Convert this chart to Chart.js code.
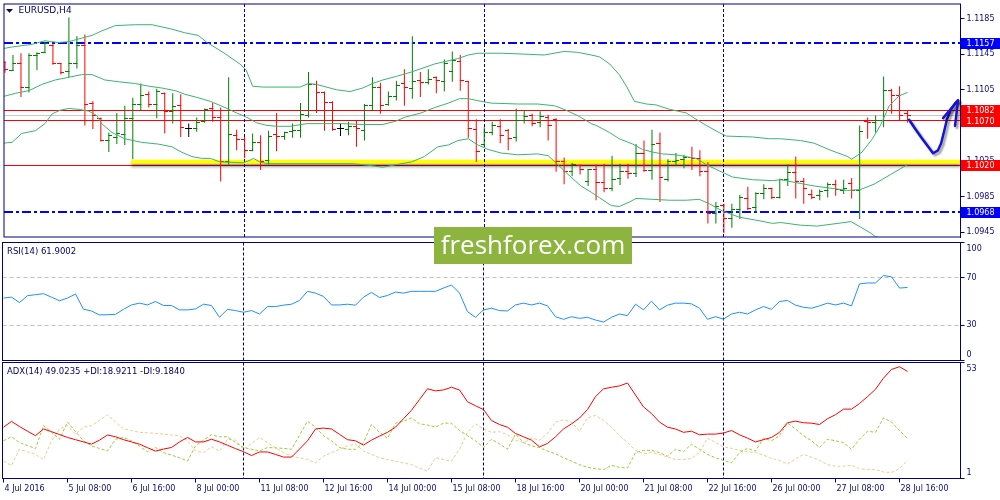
<!DOCTYPE html>
<html>
<head>
<meta charset="utf-8">
<title>EURUSD H4</title>
<script src="https://cdn.jsdelivr.net/npm/chart.js@4.4.1/dist/chart.umd.min.js"></script>
<style>
  html, body { margin: 0; padding: 0; background: #fff; }
  #wrap { position: relative; width: 1000px; height: 500px; overflow: hidden; background: #fff; }
  #wrap canvas { position: absolute; left: 0; }
  #logo { position: absolute; left: 434px; top: 227px; width: 198px; height: 37px; background: #8cb43f;
          color: #fff; font: 26px 'Open Sans', sans-serif; line-height: 35px; text-align: center; z-index: 5; }
</style>
</head>
<body>
<div id="wrap">
  <canvas id="mainChart" width="1000" height="241" style="top:0px"></canvas>
  <canvas id="rsiChart" width="1000" height="120" style="top:241px"></canvas>
  <canvas id="adxChart" width="1000" height="139" style="top:361px"></canvas>
  <div id="logo">freshforex.com</div>
</div>
<script>
// ---- data (EURUSD H4, 4 Jul 2016 00:00 .. 28 Jul 2016 20:00, bar index 0..113) ----
const opens = [1.1136,1.1127,1.1134,1.1107,1.1144,1.1147,1.1155,1.1134,1.1125,1.1135,
  1.1155,1.1090,1.1073,1.1048,1.1051,1.1055,1.1073,1.1088,1.1100,1.1089,
  1.1101,1.1081,1.1087,1.1062,1.1061,1.1069,1.1084,1.1074,1.1024,1.1054,
  1.1049,1.1037,1.1046,1.1026,1.1055,1.1053,1.1058,1.1059,1.1076,1.1111,
  1.1102,1.1091,1.1061,1.1060,1.1064,1.1059,1.1087,1.1107,1.1089,1.1097,
  1.1112,1.1106,1.1115,1.1113,1.1119,1.1114,1.1125,1.1137,1.1114,1.1060,
  1.1043,1.1057,1.1064,1.1059,1.1051,1.1070,1.1076,1.1068,1.1074,1.1072,
  1.1024,1.1013,1.1020,1.1002,1.1015,1.1001,1.0994,1.1005,1.1013,1.1011,
  1.1034,1.1014,1.1045,1.1004,1.1024,1.1027,1.1029,1.1028,1.1013,1.0966,
  1.0975,1.0960,1.0971,1.0983,1.0973,1.0988,1.0994,1.0984,1.1004,1.1012,
  1.1002,1.0987,1.0986,1.0992,1.0999,1.0992,1.1000,1.0992,1.1069,1.1068,
  1.1070,1.1104,1.1098,1.1078];
const highs = [1.1137,1.1144,1.1146,1.1146,1.1147,1.1159,1.1156,1.1135,1.1186,1.1165,
  1.1167,1.1092,1.1074,1.1057,1.1079,1.1087,1.1096,1.1112,1.1103,1.1106,
  1.1102,1.1101,1.1100,1.1067,1.1074,1.1084,1.1090,1.1085,1.1119,1.1060,
  1.1052,1.1056,1.1054,1.1059,1.1079,1.1058,1.1067,1.1090,1.1125,1.1115,
  1.1103,1.1092,1.1067,1.1069,1.1070,1.1089,1.1119,1.1113,1.1103,1.1115,
  1.1128,1.1165,1.1125,1.1128,1.1120,1.1139,1.1148,1.1144,1.1115,1.1072,
  1.1063,1.1069,1.1072,1.1061,1.1084,1.1082,1.1078,1.1081,1.1077,1.1073,
  1.1029,1.1023,1.1021,1.1016,1.1021,1.1022,1.1031,1.1022,1.1022,1.1044,
  1.1048,1.1060,1.1057,1.1027,1.1034,1.1032,1.1041,1.1037,1.1024,1.0979,
  1.0977,1.0977,1.0987,1.0996,1.0990,1.0999,1.0995,1.1005,1.1021,1.1030,
  1.1006,1.0993,1.0993,1.1001,1.1004,1.1004,1.1006,1.1065,1.1074,1.1076,
  1.1120,1.1106,1.1109,1.1082];
const lows = [1.1124,1.1126,1.1097,1.1102,1.1127,1.1146,1.1133,1.1122,1.1119,1.1129,
  1.1065,1.1061,1.1047,1.1035,1.1044,1.1043,1.1027,1.1082,1.1085,1.1073,
  1.1056,1.1067,1.1052,1.1052,1.1058,1.1068,1.1069,1.1002,1.1021,1.1037,
  1.1028,1.1036,1.1015,1.1021,1.1036,1.1049,1.1051,1.1051,1.1074,1.1079,
  1.1059,1.1059,1.1053,1.1054,1.1041,1.1048,1.1081,1.1078,1.1087,1.1093,
  1.1087,1.1095,1.1097,1.1111,1.1101,1.1103,1.1114,1.1104,1.1051,1.1024,
  1.1041,1.1054,1.1045,1.1037,1.1047,1.1067,1.1064,1.1063,1.1048,1.1013,
  1.0999,1.1008,1.1010,1.0997,1.0981,1.0990,1.0991,1.0998,1.1005,1.1007,
  1.1013,1.1004,1.0979,1.1002,1.1020,1.1017,1.1015,1.1008,1.0955,1.0955,
  1.0944,1.0950,1.0960,1.0970,1.0967,1.0982,1.0982,1.0983,1.0997,1.0983,
  1.0977,1.0982,1.0981,1.0984,1.0986,1.0988,1.0983,1.0960,1.1050,1.1057,
  1.1063,1.1078,1.1071,1.1068];
const closes = [1.1128,1.1134,1.1108,1.1144,1.1146,1.1157,1.1134,1.1124,1.1135,1.1155,
  1.1089,1.1076,1.1048,1.1054,1.1056,1.1073,1.1088,1.1098,1.1089,1.1103,
  1.1081,1.1086,1.1063,1.1062,1.1068,1.1083,1.1074,1.1024,1.1055,1.1049,
  1.1037,1.1046,1.1025,1.1053,1.1052,1.1057,1.1059,1.1077,1.1111,1.1102,
  1.1091,1.1060,1.1061,1.1064,1.1061,1.1087,1.1107,1.1087,1.1097,1.1110,
  1.1107,1.1114,1.1113,1.1117,1.1115,1.1135,1.1138,1.1115,1.1061,1.1036,
  1.1057,1.1065,1.1054,1.1050,1.1070,1.1075,1.1067,1.1075,1.1065,1.1024,
  1.1013,1.1021,1.1015,1.1015,1.1001,1.0994,1.1004,1.1013,1.1011,1.1034,
  1.1014,1.1044,1.1007,1.1024,1.1026,1.1029,1.1028,1.1013,1.0966,1.0974,
  1.0960,1.0971,1.0984,1.0972,1.0988,1.0994,1.0984,1.1004,1.1012,1.1002,
  1.0994,1.0984,1.0991,1.0999,1.0993,1.0994,1.0992,1.1058,1.1068,1.1070,
  1.1104,1.1098,1.1076,1.1076];

// Bollinger bands: [bar, price]
const bbUpper = [[-0.4,1.1151],[0.9,1.1153],[3.4,1.1156],[5,1.1160],[6.7,1.1158],[8,1.1159],[9.2,1.1162],[10.9,1.1166],
  [12.1,1.1171],[13.8,1.1177],[16.3,1.1178],[18.4,1.1178],[20.9,1.1173],[22.5,1.1169],[24.2,1.1166],[25.3,1.1158],
  [27.3,1.1147],[29.4,1.1134],[30.2,1.1127],[31,1.1109],[32.3,1.1108],[36.9,1.1108],[38,1.1112],[39,1.1111],
  [41.5,1.1105],[43.2,1.1103],[44.8,1.1107],[46,1.1112],[47.3,1.1116],[49,1.1120],[50.9,1.1125],[53.8,1.1134],
  [56.7,1.1140],[58,1.1144],[59.2,1.1146],[62.1,1.1146],[65,1.1145],[67.5,1.1144],[70,1.1148],[71.7,1.1147],
  [73.4,1.1144],[74.4,1.1142],[75.7,1.1134],[76.9,1.1122],[77.8,1.1109],[78.8,1.1092],[80.3,1.1089],[81.5,1.1088],
  [83.2,1.1083],[85.3,1.1079],[86.5,1.1072],[87.8,1.1065],[89.4,1.1057],[90.3,1.1053],[93.6,1.1052],[95.7,1.1050],
  [97.1,1.1050],[99.6,1.1048],[101.3,1.1045],[103.4,1.1037],[105.5,1.1030],[106,1.1027],[107.3,1.1035],[108.6,1.1050],
  [109.6,1.1065],[110.7,1.1087],[111.9,1.1098],[113,1.1102]];
const bbMiddle = [[-0.4,1.1097],[1.3,1.1101],[3,1.1104],[4.6,1.1111],[6.3,1.1116],[8,1.1119],[9.6,1.1122],[10.9,1.1122],
  [12.5,1.1116],[14.2,1.1114],[16.3,1.1112],[18,1.1109],[19.6,1.1107],[21.3,1.1104],[22.5,1.1100],[24.2,1.1096],
  [25.7,1.1092],[27.3,1.1086],[29,1.1079],[30.3,1.1074],[31.5,1.1068],[32.8,1.1065],[34,1.1064],[35.7,1.1064],
  [37.8,1.1067],[42.3,1.1067],[44.8,1.1066],[47.3,1.1066],[49,1.1070],[50,1.1074],[52.1,1.1079],[53.8,1.1085],
  [55.5,1.1090],[56.9,1.1095],[58,1.1095],[59.6,1.1092],[60.9,1.1090],[64.2,1.1089],[66.7,1.1089],[68.8,1.1087],
  [70,1.1083],[71.7,1.1076],[73.4,1.1067],[74,1.1065],[75.7,1.1057],[76.9,1.1050],[78.6,1.1044],[79.8,1.1038],
  [81.1,1.1035],[82.3,1.1033],[84,1.1032],[86.5,1.1028],[87.8,1.1021],[89.4,1.1014],[91.1,1.1007],[93.6,1.1004],
  [96.1,1.1003],[97.1,1.1004],[101.3,1.0997],[105.5,1.0992],[107.1,1.0993],[108.8,1.0999],[110.9,1.1010],[113,1.1021]];
const bbLower = [[-0.4,1.1045],[0.9,1.1046],[2.1,1.1056],[3.8,1.1059],[5,1.1067],[5.9,1.1078],[6.9,1.1082],[8,1.1084],
  [9.2,1.1083],[10.5,1.1081],[11.5,1.1076],[12.1,1.1067],[13.4,1.1057],[15,1.1050],[17.1,1.1046],[19.2,1.1044],
  [20.9,1.1041],[22.1,1.1035],[23.4,1.1030],[24.6,1.1028],[25.7,1.1028],[26.9,1.1024],[29.8,1.1023],[30.7,1.1026],
  [31.1,1.1028],[31.9,1.1024],[32.8,1.1022],[39.8,1.1022],[43.6,1.1022],[45.7,1.1020],[47.3,1.1018],[49,1.1021],
  [50.9,1.1024],[52.5,1.1030],[54.2,1.1041],[55.5,1.1043],[56.7,1.1048],[58,1.1050],[59.2,1.1043],[60.5,1.1038],
  [62.1,1.1034],[64.2,1.1032],[66.7,1.1033],[68,1.1031],[69.2,1.1021],[70.5,1.1010],[72.1,1.0997],[73.4,1.0990],
  [74.4,1.0984],[75.9,1.0975],[76.9,1.0974],[78.2,1.0979],[79,1.0983],[81.1,1.0982],[83.2,1.0981],[85.3,1.0981],
  [86.9,1.0982],[88.2,1.0977],[89.8,1.0969],[91.9,1.0962],[94.4,1.0958],[96.1,1.0955],[97.1,1.0956],[99.6,1.0953],
  [101.7,1.0952],[103.4,1.0954],[105.9,1.0957],[107.1,1.0951],[108.4,1.0944],[109,1.0940],[110.9,1.0935],[113,1.0933]];

const rsi = [52.9,53.7,49.1,54.9,55.8,56.6,53.7,50.6,52.9,56.3,
  43.4,42,38.6,38.8,39.1,43.4,47.1,48.6,47.1,50,
  46.6,46.6,42.9,42.9,43.7,47.7,46.6,36.6,43.4,42.3,
  40.9,42.3,39.4,45.7,45.7,46.9,47.7,50.9,58.6,57.1,
  54.3,47.1,47.1,47.7,46.9,53.7,57.7,53.4,55.1,58,
  57.1,58.6,58.6,58.6,58.6,61.4,64,57.1,41.4,36.6,
  42.9,44.3,42.3,42,47.1,48.6,47.1,48.6,46.3,37.1,
  34.9,37.1,35.7,36.6,34.3,32.6,36.6,39.4,38,47.7,
  42.9,50.3,42.9,46.9,48.6,48.6,48,44.3,34.9,37.1,
  35.1,39.4,40.9,39.4,42.9,45.7,43.4,50,50.9,46.9,
  45.1,44.3,46.3,48.6,47.1,48.6,46.3,64.9,65.7,65.7,
  72,70.9,61.4,61.9];
const adx = [24,26.6,24.3,22.2,20.2,23.2,22,20.7,19.4,18.4,
  17.4,16.4,18.2,20.5,19.7,18.4,17.4,16.4,14.8,13.3,
  14.2,14.9,17.4,19.4,17.4,17.4,18.6,17.4,15.9,14.4,
  13,11.3,12.9,12.9,11.8,10.6,10.6,14.2,17.9,23.2,
  23.6,23.2,20.8,18.4,17.9,16,18.2,20,21.7,24,
  27.8,31.6,36.4,41.2,40.3,40.7,41.9,40.7,35.4,33.6,
  31.9,27,25.2,24,21.2,19.7,18.2,15.2,16.7,19.7,
  23.2,25.5,28.1,31.9,37.7,41.2,41.9,42.5,43.8,38.4,
  33.1,30.1,26.3,24,23.2,21.7,22.2,20.6,20.9,20.9,
  21.4,22.5,20.6,19.1,17.4,18.4,19.4,21.7,26,26.7,
  26,25.8,25.2,27.8,29.6,32.1,32.1,34.6,37.7,41,
  46,49.9,51.1,49.0];
const plusDI = [17.9,19.7,17.1,15.8,14.4,24.7,21.7,18.6,26.3,22,
  17.9,15.6,14.5,13.3,18.6,19.4,17.9,15.5,13,14.9,
  12.6,11.5,10.3,8.8,15.6,18.2,20.6,19.7,19.7,17.1,
  14.9,14.1,13.3,14.9,14.7,14.5,14.1,20.4,26.7,24,
  20.2,17.9,14.9,14.1,14.1,17.1,25.2,21.7,19,25.8,
  26.7,28.2,25.5,25,24,25.8,25.8,22.5,20.2,17.9,
  14.9,18.6,16.5,14.1,20.9,17.1,15.6,14.9,13.3,12.1,
  10.3,8.8,7.2,6,5.4,5,6.9,6,5.7,12.6,
  13.6,13.6,12.6,11,14.1,13,16.4,14.1,11.8,10.3,
  9.1,8,12.6,14.5,13.3,19.1,17.9,20.2,25.8,23.2,
  20.2,17.9,14.9,18.6,17.9,17.1,14.1,18.6,22.2,21.7,
  28.2,26.3,22.5,18.9];
const minusDI = [8.8,6.8,14.1,13,11.8,9.5,17.9,23.2,24.7,20.9,
  24,24.7,27,29.6,26.3,23.2,22.5,21.7,21.5,21.2,
  20.9,20.5,20.2,17.9,13.3,12.6,15.2,13.3,18.6,18.2,
  14.1,16.7,19.4,17.1,14.8,12.6,11,10.3,9.5,8,
  11,12.6,14.1,15.6,16.4,13.3,11.8,10.3,9.5,8.8,
  8,7.2,5.7,4.2,10.3,9.5,8.8,14.1,21.7,25.5,
  23.2,21.7,22,20.6,18.2,17.1,19.1,18.2,21.2,26.3,
  27.3,26.3,22.2,28.2,29.3,27,24,20.2,17.1,13.6,
  12.1,12.6,11.8,10.6,9.5,9.5,10,12.6,19.1,17.1,
  15.2,14.5,13.6,13,12.6,11.5,10,9.1,7.5,9.8,
  11.8,10.6,9.1,7.2,6.5,6.5,6.9,5.4,5,5,
  3.9,3.7,5.4,9.2];

const xTickBars = [0,8,16,24,32,40,48,56,64,72,80,88,96,104,112];
const xLabels = ['4 Jul 2016','5 Jul 08:00','6 Jul 16:00','8 Jul 00:00','11 Jul 08:00','12 Jul 16:00',
  '14 Jul 00:00','15 Jul 08:00','18 Jul 16:00','20 Jul 00:00','21 Jul 08:00','22 Jul 16:00',
  '26 Jul 00:00','27 Jul 08:00','28 Jul 16:00'];
const priceTicks = [1.0945,1.0985,1.1025,1.1065,1.1105,1.1145,1.1185];
const rsiTicks = [0,30,70,100];
const rsiLevels = [30,70];
const adxTicks = [1,53];
const weekBars = [30,60,90];

const blueLevels = [1.1157, 1.0968];
const redLevels = [1.1082, 1.1070, 1.1020];
const bidPrice = 1.1076;
const zone = { fromBar: 15.8, price: 1.10243 };
const priceTags = [[1.1157,'#0000ff'],[1.1082,'#ff0000'],[1.1070,'#ff0000'],[1.1020,'#ff0000'],[1.0968,'#0000ff']];
const arrowPath = [[113.19,1.10714],[113.94,1.10612],[114.81,1.10502],[115.56,1.10414],[116.19,1.10337],
  [116.81,1.10370],[117.19,1.10447],[117.56,1.10579],[117.94,1.10721],[118.44,1.10831],[118.94,1.10897],[119.31,1.10930]];
const arrowBarbs = [[117.44,1.10732],[118.94,1.10644]];

// ---- look ----
const NAVY = '#000080';
const LABEL = '#0b0b78';
const UP = '#008000', DOWN = '#ff0000', FLAT = '#000000';
const BAND = '#3cb371';
const X_MIN = -0.125, X_MAX = 119.625;

Chart.defaults.font.family = "'DejaVu Sans', sans-serif";
Chart.defaults.font.size = 8;
Chart.defaults.color = LABEL;

const barColor = i => closes[i] > opens[i] ? UP : (closes[i] < opens[i] ? DOWN : FLAT);

// open / close ticks as little point images
function tickImage(color, side) {
  const c = document.createElement('canvas');
  c.width = 7; c.height = 1;
  const g = c.getContext('2d');
  g.fillStyle = color;
  g.fillRect(side === 'open' ? 0 : 3, 0, 4, 1);
  return c;
}
const tickImgs = {};
[UP, DOWN, FLAT].forEach(c => { tickImgs[c] = { open: tickImage(c, 'open'), close: tickImage(c, 'close') }; });

const pts = arr => arr.map(([x, y]) => ({ x, y }));
const series = arr => arr.map((y, i) => ({ x: i, y }));

function xAxis(show) {
  return {
    type: 'linear', min: X_MIN, max: X_MAX, offset: false, display: show,
    grid: { display: true, offset: false, drawOnChartArea: false, drawTicks: true, tickLength: 4, color: NAVY },
    border: { display: true, color: NAVY },
    ticks: {
      autoSkip: false, maxRotation: 0, minRotation: 0, align: 'start', labelOffset: 1, padding: 2, color: LABEL,
      callback: v => { const k = xTickBars.indexOf(v); return k >= 0 ? xLabels[k] : ''; }
    },
    afterBuildTicks: s => { s.ticks = xTickBars.map(v => ({ value: v })); },
    afterFit: s => {
      s.paddingLeft = 0; s.paddingRight = 0;
      s.height = show ? 21.5 : 0;
    }
  };
}

function yAxis(min, max, ticks, fmt) {
  return {
    type: 'linear', position: 'right', min, max, beginAtZero: false,
    grid: { drawOnChartArea: false, tickLength: 4, color: NAVY },
    border: { display: true, color: NAVY },
    ticks: { padding: 2, color: LABEL, font: { size: 8, lineHeight: 1.5 }, callback: fmt },
    afterBuildTicks: s => { s.ticks = ticks.map(v => ({ value: v })); },
    afterFit: s => { s.width = 39.5; s.paddingTop = 0; s.paddingBottom = 0; }
  };
}

function baseOptions(top, bottom, x, y) {
  return {
    responsive: false, animation: false, devicePixelRatio: 1, events: [],
    layout: { padding: { left: 2.5, right: 0, top, bottom } },
    plugins: { legend: { display: false }, tooltip: { enabled: false } },
    scales: { x, y }
  };
}

function hline(ctx, a, py, color, dash, width) {
  const w = width || 1;
  const yy = w % 2 ? Math.round(py - 0.5) + 0.5 : Math.round(py);
  ctx.strokeStyle = color; ctx.lineWidth = w; ctx.setLineDash(dash || []);
  ctx.beginPath(); ctx.moveTo(a.left, yy); ctx.lineTo(a.right, yy); ctx.stroke();
  ctx.setLineDash([]);
}

function panel(name, title, titleSize, under, over) {
  return {
    id: 'panel_' + name,
    beforeDatasetsDraw(chart) {
      const { ctx, chartArea: a, scales: { x, y } } = chart;
      ctx.save();
      ctx.beginPath(); ctx.rect(a.left, a.top, a.right - a.left, a.bottom - a.top); ctx.clip();
      if (under) under(ctx, a, x, y);
      ctx.strokeStyle = NAVY; ctx.lineWidth = 1; ctx.setLineDash([3, 2]);
      weekBars.forEach(b => {
        const px = Math.round(x.getPixelForValue(b) - 0.5) + 0.5;
        ctx.beginPath(); ctx.moveTo(px, a.top); ctx.lineTo(px, a.bottom); ctx.stroke();
      });
      ctx.restore();
    },
    afterDraw(chart) {
      const { ctx, chartArea: a, scales: { x, y } } = chart;
      ctx.save();
      ctx.strokeStyle = NAVY; ctx.lineWidth = 1;
      ctx.strokeRect(a.left, a.top, a.right - a.left, a.bottom - a.top);
      ctx.fillStyle = '#000066';
      ctx.font = titleSize + "px 'DejaVu Sans'";
      ctx.textBaseline = 'middle';
      ctx.fillText(title, name === 'main' ? 18.5 : 7, name === 'main' ? 10.5 : 10.7);
      if (over) over(ctx, a, x, y);
      ctx.restore();
    }
  };
}

// ---- main price panel ----
const mainMax = 1.1201264, mainMin = 1.0939725;

new Chart(document.getElementById('mainChart'), {
  type: 'bar',
  data: {
    datasets: [
      { type: 'line', data: pts(bbUpper), borderColor: BAND, borderWidth: 1, pointRadius: 0, tension: 0 },
      { type: 'line', data: pts(bbMiddle), borderColor: BAND, borderWidth: 1, pointRadius: 0, tension: 0 },
      { type: 'line', data: pts(bbLower), borderColor: BAND, borderWidth: 1, pointRadius: 0, tension: 0 },
      { type: 'scatter', data: series(opens), pointRadius: 3, pointHoverRadius: 3,
        pointStyle: c => tickImgs[barColor(c.dataIndex)].open },
      { type: 'scatter', data: series(closes), pointRadius: 3, pointHoverRadius: 3,
        pointStyle: c => tickImgs[barColor(c.dataIndex)].close },
      { type: 'bar', data: highs.map((h, i) => ({ x: i, y: [lows[i], h] })),
        backgroundColor: highs.map((h, i) => barColor(i)), barThickness: 1, inflateAmount: 0, borderWidth: 0 }
    ]
  },
  options: baseOptions(2.5, 0.5, xAxis(false), yAxis(mainMin, mainMax, priceTicks, v => v.toFixed(4))),
  plugins: [panel('main', 'EURUSD,H4', 9,
    (ctx, a, x, y) => {
      blueLevels.forEach(p => hline(ctx, a, y.getPixelForValue(p), '#0000ff', [9, 3, 3, 3], 2));
      hline(ctx, a, y.getPixelForValue(bidPrice), '#c8c8c8');
      redLevels.forEach(p => hline(ctx, a, y.getPixelForValue(p), '#ff0000'));
      // support zone with its shadow
      const zy = y.getPixelForValue(zone.price);
      ctx.save();
      ctx.shadowColor = 'rgba(0,0,0,0.45)'; ctx.shadowOffsetY = 3; ctx.shadowBlur = 3;
      ctx.strokeStyle = '#ffff00'; ctx.lineWidth = 4;
      ctx.beginPath(); ctx.moveTo(x.getPixelForValue(zone.fromBar), zy); ctx.lineTo(a.right, zy); ctx.stroke();
      ctx.restore();
    },
    (ctx, a, x, y) => {
      // triangle before the symbol name
      ctx.fillStyle = '#000066';
      ctx.beginPath(); ctx.moveTo(6, 9); ctx.lineTo(13, 9); ctx.lineTo(9.5, 12.7); ctx.closePath(); ctx.fill();
      // price tags on the axis
      ctx.font = "8px 'DejaVu Sans'"; ctx.textBaseline = 'middle';
      priceTags.forEach(([p, bg]) => {
        const py = Math.round(y.getPixelForValue(p));
        ctx.fillStyle = bg; ctx.fillRect(961, py - 5, 39, 11);
        ctx.fillStyle = '#ffffff'; ctx.fillText(p.toFixed(4), 966.5, py + 0.5);
      });
      // hand-drawn forecast arrow
      ctx.save();
      ctx.shadowColor = 'rgba(0,0,0,0.4)'; ctx.shadowOffsetX = 2; ctx.shadowOffsetY = 2; ctx.shadowBlur = 2;
      ctx.strokeStyle = '#1414d2'; ctx.lineWidth = 2.5; ctx.lineCap = 'round'; ctx.lineJoin = 'round';
      ctx.beginPath();
      arrowPath.forEach(([b, p], k) => {
        const px = x.getPixelForValue(b), py = y.getPixelForValue(p);
        if (k) ctx.lineTo(px, py); else ctx.moveTo(px, py);
      });
      ctx.stroke();
      const tip = arrowPath[arrowPath.length - 1];
      arrowBarbs.forEach(([b, p]) => {
        ctx.beginPath();
        ctx.moveTo(x.getPixelForValue(tip[0]), y.getPixelForValue(tip[1]));
        ctx.lineTo(x.getPixelForValue(b), y.getPixelForValue(p));
        ctx.stroke();
      });
      ctx.restore();
    })]
});

// ---- RSI panel ----
new Chart(document.getElementById('rsiChart'), {
  type: 'line',
  data: { datasets: [
    { data: series(rsi), borderColor: '#1e90ff', borderWidth: 1, pointRadius: 0, tension: 0 }
  ] },
  options: baseOptions(1.5, 0.5, xAxis(false), yAxis(0, 100, rsiTicks,
    v => v === 100 ? ['', '100'] : (v === 0 ? ['0', ''] : String(v)))),
  plugins: [panel('rsi', 'RSI(14) 61.9002', 8.5,
    (ctx, a, x, y) => { rsiLevels.forEach(v => hline(ctx, a, y.getPixelForValue(v), '#c0c0c0', [4, 3])); },
    null)]
});

// ---- ADX panel ----
new Chart(document.getElementById('adxChart'), {
  type: 'line',
  data: { datasets: [
    { data: series(adx), borderColor: '#ff0000', borderWidth: 1, pointRadius: 0, tension: 0 },
    { data: series(plusDI), borderColor: '#9acd32', borderWidth: 1, borderDash: [3, 2], pointRadius: 0, tension: 0 },
    { data: series(minusDI), borderColor: '#f2c98e', borderWidth: 1, borderDash: [3, 2], pointRadius: 0, tension: 0 }
  ] },
  options: baseOptions(1.5, 0, xAxis(true), yAxis(1, 53, adxTicks,
    v => v === 53 ? ['', '53'] : ['1', ''])),
  plugins: [panel('adx', 'ADX(14) 49.0235 +DI:18.9211 -DI:9.1840', 8.5, null, null)]
});
</script>
</body>
</html>
